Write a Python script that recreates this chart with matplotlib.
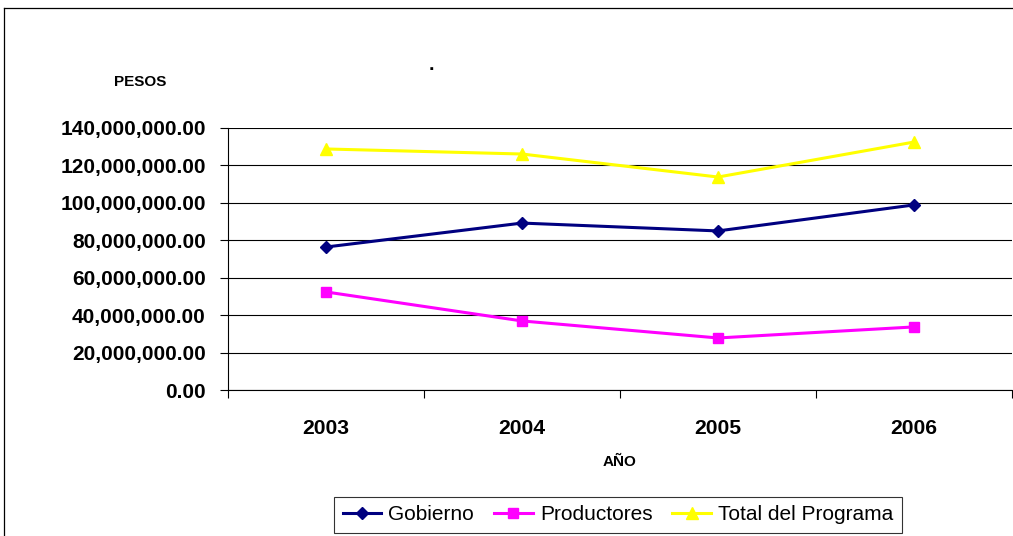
import matplotlib.pyplot as plt
from matplotlib.lines import Line2D
from matplotlib.ticker import FuncFormatter

plt.rcParams['font.family'] = ['Liberation Sans', 'DejaVu Sans']

years = ['2003', '2004', '2005', '2006']
gobierno = [76.4e6, 89.2e6, 85.0e6, 98.9e6]
productores = [52.4e6, 36.9e6, 27.8e6, 33.7e6]
total = [128.8e6, 126.1e6, 113.8e6, 132.5e6]

fig = plt.figure(figsize=(10.13, 5.36), dpi=100)
ax = fig.add_axes([228 / 1013, 1 - 390 / 536, 784 / 1013, 262 / 536])

x = list(range(1, len(years) + 1))
ax.plot(x, gobierno, color='#000080', lw=2.2, marker='D', ms=6, label='Gobierno')
ax.plot(x, productores, color='#FF00FF', lw=2.2, marker='s', ms=6.5, label='Productores')
ax.plot(x, total, color='#FFFF00', lw=2.2, marker='^', ms=8, label='Total del Programa')

ax.set_xlim(0.5, len(years) + 0.5)
ax.set_ylim(0, 140e6)
ax.set_yticks(range(0, 140000001, 20000000))
ax.yaxis.set_major_formatter(FuncFormatter(lambda v, p: f'{v:,.2f}'))
ax.grid(axis='y', color='black', lw=0.8)
ax.set_axisbelow(True)

ax.set_xticks([i + 0.5 for i in range(len(years) + 1)])
ax.set_xticklabels([])
ax.set_xticks(x, minor=True)
ax.set_xticklabels(years, minor=True)
ax.tick_params(axis='x', which='major', direction='out', length=6, width=0.8)
ax.tick_params(axis='x', which='minor', length=0, pad=21, labelsize=15.2)
ax.tick_params(axis='y', direction='out', length=6, width=0.8, pad=10, labelsize=15)
for lab in ax.get_xticklabels(minor=True) + ax.get_yticklabels():
    lab.set_fontweight('bold')

for s in ['top', 'right']:
    ax.spines[s].set_visible(False)
for s in ['left', 'bottom']:
    ax.spines[s].set_linewidth(0.8)

fig.text(140 / 1013, 1 - 82 / 536, 'PESOS', ha='center', va='center',
         fontsize=11, fontweight='bold')
fig.text(620 / 1013, 1 - 462 / 536, 'AÑO', ha='center', va='center',
         fontsize=11, fontweight='bold')
fig.text(431 / 1013, 1 - 66 / 536, '.', ha='center', va='center',
         fontsize=14, fontweight='bold')

# outer chart frame
fig.add_artist(Line2D([4 / 1013, 1], [1 - 8 / 536] * 2, color='black', lw=0.9))
fig.add_artist(Line2D([4 / 1013] * 2, [0, 1 - 8 / 536], color='black', lw=0.9))

leg = fig.legend(loc='center', bbox_to_anchor=(618 / 1013, 1 - 515 / 536), ncol=3,
                 frameon=True, fancybox=False, edgecolor='black', fontsize=15,
                 handlelength=1.85, columnspacing=0.95, handletextpad=0.35,
                 borderpad=0.4, borderaxespad=0)
leg.get_frame().set_linewidth(0.8)

fig.savefig('out.png', dpi=100)
